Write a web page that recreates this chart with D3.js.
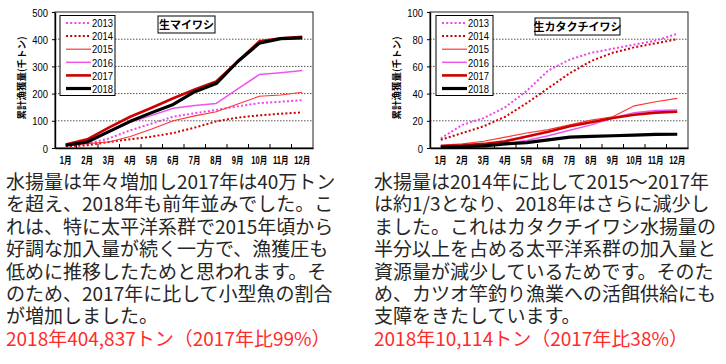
<!DOCTYPE html>
<html><head><meta charset="utf-8">
<script src="https://cdn.jsdelivr.net/npm/d3@7"></script>
<style>html,body{margin:0;padding:0;background:#fff;}svg{display:block;}</style>
</head><body>
<svg id="c" width="726" height="364"></svg>
<script>
// ---- data ----
const months = ["1月","2月","3月","4月","5月","6月","7月","8月","9月","10月","11月","12月"];
const years = ["2013","2014","2015","2016","2017","2018"];
// 生マイワシ 累計漁獲量 (千トン)
const maiwashi2013 = [5, 15, 35, 65, 90, 115, 128, 140, 153, 165, 170, 176];
const maiwashi2014 = [6, 10, 22, 32, 42, 55, 75, 98, 112, 120, 126, 131];
const maiwashi2015 = [8, 16, 22, 42, 70, 100, 118, 133, 162, 190, 195, 205];
const maiwashi2016 = [12, 28, 58, 95, 120, 146, 156, 164, 217, 270, 277, 285];
const maiwashi2017 = [13, 32, 75, 115, 148, 183, 215, 245, 318, 392, 403, 409];
const maiwashi2018 = [10, 22, 60, 98, 130, 160, 207, 237, 318, 385, 402, 405];
const maiwashiTicks = [0, 100, 200, 300, 400, 500];
// 生カタクチイワシ 累計漁獲量 (千トン)
const katakuchi2013 = [7, 17, 22, 30, 42, 57, 65, 70, 73, 76, 79, 84];
const katakuchi2014 = [6, 11, 16, 23, 33, 44, 55, 64, 70, 74, 77, 80];
const katakuchi2015 = [2, 3, 5, 8, 11, 13.5, 17, 20.5, 23, 31, 34, 36.5];
const katakuchi2016 = [0.5, 1, 2, 3.5, 5.5, 9, 13, 17, 22, 26, 27.5, 28];
const katakuchi2017 = [1.5, 2, 3, 5, 8.5, 12, 16, 19, 22, 24.5, 26, 26.6];
const katakuchi2018 = [0.5, 1, 1.5, 3, 4, 6, 8, 8.5, 9, 9.5, 10, 10.1];
const katakuchiTicks = [0, 20, 40, 60, 80, 100];

const yLabel = "累計漁獲量(千トン)";
const leftText = [
  "水揚量は年々増加し2017年は40万トン",
  "を超え、2018年も前年並みでした。こ",
  "れは、特に太平洋系群で2015年頃から",
  "好調な加入量が続く一方で、漁獲圧も",
  "低めに推移したためと思われます。そ",
  "のため、2017年に比して小型魚の割合",
  "が増加しました。"
];
const leftRed = "2018年404,837トン（2017年比99%）";
const rightText = [
  "水揚量は2014年に比して2015～2017年",
  "は約1/3となり、2018年はさらに減少し",
  "ました。これはカタクチイワシ水揚量の",
  "半分以上を占める太平洋系群の加入量と",
  "資源量が減少しているためです。そのた",
  "め、カツオ竿釣り漁業への活餌供給にも",
  "支障をきたしています。"
];
const rightRed = "2018年10,114トン（2017年比38%）";

// ---- styles ----
const styles = {
  "2013": {color:"#ee44ee", width:2, dash:"2,2.2"},
  "2014": {color:"#cc0000", width:2, dash:"2,2.2"},
  "2015": {color:"#ff3333", width:1.1, dash:null},
  "2016": {color:"#ee55ee", width:1.5, dash:null},
  "2017": {color:"#cc0000", width:2.6, dash:null},
  "2018": {color:"#000000", width:3.2, dash:null}
};
const latin = "'Liberation Sans', Arial, 'Noto Sans CJK JP', sans-serif";
const cjk = "'Noto Sans CJK JP', sans-serif";

const svg = d3.select("#c");
svg.append("rect").attr("width",726).attr("height",364).attr("fill","#fff");

function sText(g, x, y, str, size, anchor, sx, weight, family) {
  return g.append("text")
    .attr("transform", `translate(${x},${y}) scale(${sx},1)`)
    .attr("text-anchor", anchor)
    .attr("font-size", size)
    .attr("font-weight", weight || "normal")
    .attr("font-family", family || latin)
    .attr("fill", "#000")
    .text(str);
}

function chart(o) {
  const g = svg.append("g");
  const x = d3.scaleBand().domain(months).range([o.x0, o.x0 + 258]);
  const y = d3.scaleLinear().domain([0, o.yMax]).range([148, 12]);

  // gridlines
  g.append("g").selectAll("line").data(o.ticks.filter(t => t > 0 && t < o.yMax)).join("line")
    .attr("x1", o.x0).attr("x2", o.x0 + 258)
    .attr("y1", d => y(d)).attr("y2", d => y(d))
    .attr("stroke", "#555").attr("stroke-width", 1).attr("stroke-dasharray", "1.5,1.5");

  // plot border
  g.append("rect").attr("x", o.x0).attr("y", y(o.yMax)).attr("width", 258).attr("height", y(0) - y(o.yMax))
    .attr("fill", "none").attr("stroke", "#222").attr("stroke-width", 1);

  // y axis
  const ya = g.append("g").attr("transform", `translate(${o.x0},0)`)
    .call(d3.axisLeft(y).tickValues(o.ticks).tickSize(3).tickSizeOuter(0).tickFormat(d3.format("d")));
  ya.select(".domain").attr("stroke", "#000").attr("stroke-width", 1.4);
  ya.selectAll(".tick line").attr("stroke", "#000");
  ya.selectAll(".tick text").remove();
  ya.selectAll(".tick").each(function(d) {
    sText(d3.select(this), -7, 4, String(d), 11.5, "end", 0.82);
  });

  // x axis
  const xa = g.append("g").attr("transform", `translate(0,148)`)
    .call(d3.axisBottom(x).tickSize(0).tickSizeOuter(0));
  xa.select(".domain").attr("stroke", "#000").attr("stroke-width", 1.6);
  xa.selectAll(".tick text").remove();
  xa.selectAll(".tick").each(function(d) {
    sText(d3.select(this), 0, 16, d, 10, "middle", 0.76, "bold", latin);
  });
  g.append("g").selectAll("line").data(months.slice(1)).join("line")
    .attr("x1", d => x(d)).attr("x2", d => x(d)).attr("y1", 144).attr("y2", 149)
    .attr("stroke", "#000").attr("stroke-width", 1);

  // series
  const line = d3.line().x((d, i) => x(months[i]) + x.bandwidth() / 2).y(d => y(d));
  years.forEach((yr, k) => {
    const s = styles[yr];
    g.append("path").datum(o.series[k]).attr("d", line)
      .attr("fill", "none").attr("stroke", s.color).attr("stroke-width", s.width)
      .attr("stroke-dasharray", s.dash).attr("stroke-linejoin", "round");
  });

  // legend
  const lg = g.append("g");
  lg.append("rect").attr("x", o.lx).attr("y", 15.5).attr("width", o.lw).attr("height", 80)
    .attr("fill", "#fff").attr("stroke", "#000").attr("stroke-width", 1);
  years.forEach((yr, k) => {
    const s = styles[yr];
    const yy = 23 + k * 13.1;
    lg.append("line").attr("x1", o.lx + 6).attr("x2", o.lx + 31).attr("y1", yy).attr("y2", yy)
      .attr("stroke", s.color).attr("stroke-width", Math.max(s.width, 1.2)).attr("stroke-dasharray", s.dash);
    sText(lg, o.lx + 32, yy + 4.2, yr, 11.5, "start", 0.82);
  });

  // title box
  g.append("rect").attr("x", o.tx).attr("y", o.ty).attr("width", o.tw).attr("height", 17)
    .attr("fill", "#fff").attr("stroke", "#000").attr("stroke-width", 1);
  g.append("text").attr("x", o.tx + o.tw / 2).attr("y", o.ty + 13).attr("text-anchor", "middle")
    .attr("font-size", 11).attr("font-weight", "bold").attr("font-family", cjk).attr("fill", "#000")
    .text(o.title);

  // y label
  g.append("text").attr("transform", `translate(${o.x0 - 30},${78}) rotate(-90)`)
    .attr("text-anchor", "middle").attr("font-size", 9.5).attr("font-weight", "bold")
    .attr("font-family", cjk).attr("fill", "#000").text(yLabel);
}

chart({x0:55, yMax:500, ticks:maiwashiTicks, title:"生マイワシ",
  series:[maiwashi2013, maiwashi2014, maiwashi2015, maiwashi2016, maiwashi2017, maiwashi2018],
  lx:60, lw:55, tx:158, ty:16, tw:57});
chart({x0:430, yMax:100, ticks:katakuchiTicks, title:"生カタクチイワシ",
  series:[katakuchi2013, katakuchi2014, katakuchi2015, katakuchi2016, katakuchi2017, katakuchi2018],
  lx:436, lw:57, tx:535, ty:18, tw:85});

// paragraphs
function para(x, lines, red) {
  const g = svg.append("g").attr("font-family", cjk).attr("font-size", 19);
  lines.forEach((t, i) => {
    g.append("text").attr("x", x).attr("y", 189 + i * 22.4).attr("fill", "#262626").text(t);
  });
  g.append("text").attr("x", x).attr("y", 189 + lines.length * 22.4).attr("fill", "#ff2a2a").text(red);
}
para(6, leftText, leftRed);
para(374, rightText, rightRed);
</script>
</body></html>
